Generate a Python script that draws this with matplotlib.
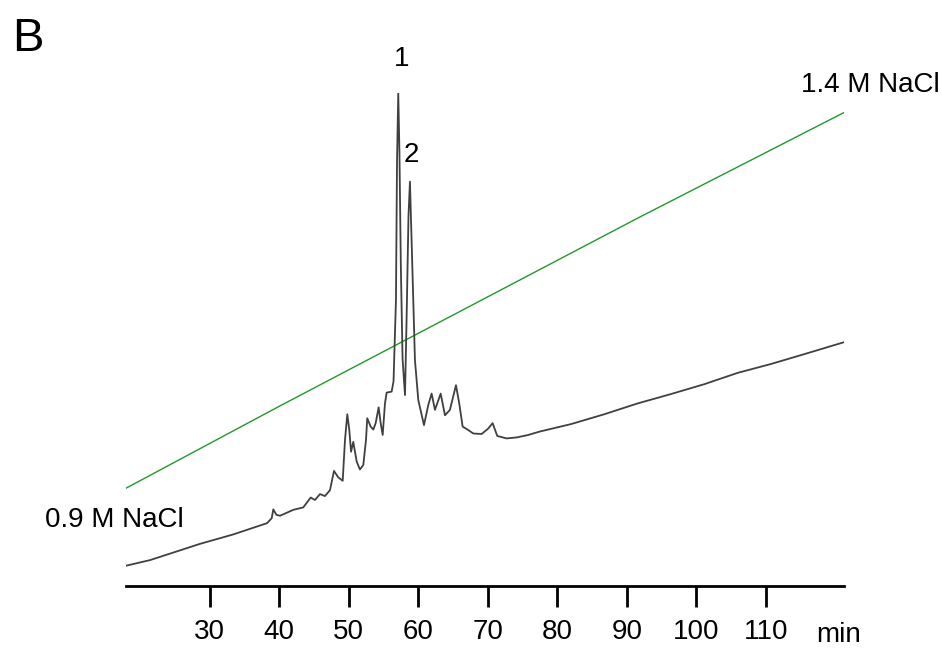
import numpy as np
import matplotlib
matplotlib.use('Agg')
import matplotlib.pyplot as plt

plt.rcParams['font.family'] = ['Liberation Sans', 'DejaVu Sans']

# elution time (min) and detector signal (arbitrary units, peak 1 = 100)
t_trace = [17.98, 21.43, 28.62, 33.37, 38.26, 38.93, 39.16, 39.6, 40.12, 42.03,
           43.47, 44.54, 45.15, 45.87, 46.59, 47.31, 47.89, 48.50, 49.14, 49.47,
           49.80, 50.09, 50.34, 50.66, 51.15, 51.62, 52.10, 52.49, 52.67, 53.16,
           53.54, 53.88, 54.31, 54.60, 54.89, 55.22, 55.46, 56.18, 56.45,
           56.80, 56.95, 57.13, 57.30, 57.50, 57.75, 58.10, 58.34, 58.60, 58.81,
           59.05, 59.53, 60.01, 60.83, 61.45, 61.93, 62.41, 63.23, 63.85, 64.56,
           65.43, 65.90, 66.39, 67.20, 67.92, 69.12, 70.07, 70.70, 71.37, 72.72,
           74.16, 75.82, 77.50, 81.96, 86.75, 91.55, 96.34, 101.13, 105.93, 110.72,
           115.51, 121.17]
signal = [4.06, 5.2, 8.5, 10.4, 12.7, 13.7, 15.5, 14.4, 14.2, 15.4,
          15.9, 17.9, 17.4, 18.6, 18.2, 19.4, 23.3, 22.0, 21.3, 29.6,
          34.8, 31.6, 27.2, 29.2, 25.2, 23.6, 24.5, 29.6, 34.0, 32.3,
          31.7, 33.0, 36.2, 33.0, 30.6, 37.0, 39.2, 39.4, 41.5,
          58.0, 86.0, 100.0, 88.0, 65.0, 46.0, 38.7, 55.0, 75.0, 82.0,
          70.0, 45.8, 37.7, 32.6, 36.7, 39.0, 35.7, 39.0, 34.6, 35.7,
          40.7, 37.0, 32.3, 31.6, 30.9, 30.8, 31.9, 33.0, 30.4, 29.9,
          30.1, 30.6, 31.3, 32.8, 34.8, 37.0, 38.9, 40.9, 43.2, 45.0,
          47.0, 49.4]

# NaCl gradient trace (same display units)
t_grad = [17.98, 40.12, 91.55, 121.17]
grad = [19.8, 36.5, 74.6, 96.0]

ticks = [30, 40, 50, 60, 70, 80, 90, 100, 110]

fig = plt.figure(figsize=(9.42, 6.48), dpi=100)
ax = fig.add_axes([0.1338, 0.0961, 0.7619, 0.7603])

ax.plot(t_grad, grad, color='#1f9a2a', lw=1.0)
ax.plot(t_trace, signal, color='#404040', lw=1.3)

ax.set_xlim(17.98, 121.2)
ax.set_ylim(0, 100)
ax.set_xticks(ticks)
ax.set_yticks([])
for s in ['left', 'right', 'top']:
    ax.spines[s].set_visible(False)
ax.spines['bottom'].set_linewidth(2.0)
ax.tick_params(axis='x', direction='out', length=15, width=2.0, pad=9, labelsize=20)

ax.text(57.6, 106.9, '1', fontsize=20, ha='center', va='center', clip_on=False)
ax.text(59.06, 87.5, '2', fontsize=20, ha='center', va='center')
ax.text(115.0, 100.2, '1.4 M NaCl', fontsize=20, ha='left', va='baseline', clip_on=False)
ax.text(6.33, 11.9, '0.9 M NaCl', fontsize=20, ha='left', va='baseline')
ax.text(117.19, -0.114, 'min', fontsize=20, ha='left', va='baseline',
        transform=ax.get_xaxis_transform())
fig.text(12/942, 1-51/648, 'B', fontsize=34, ha='left', va='baseline')

plt.savefig('out.png', dpi=100)
